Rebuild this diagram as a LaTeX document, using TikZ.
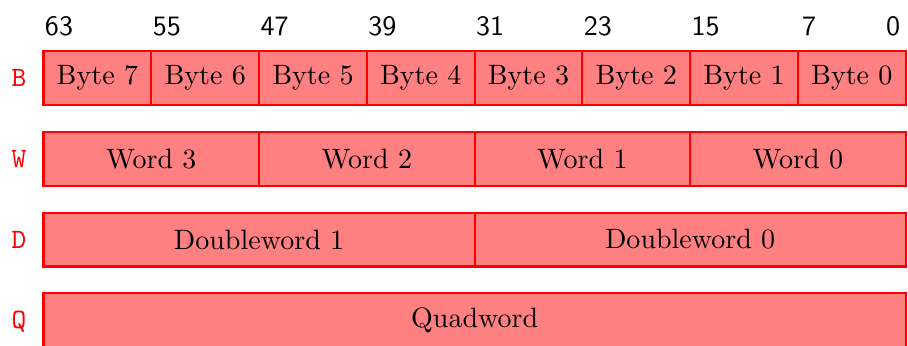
\documentclass[tikz,border=0pt]{standalone}
\begin{document}
\begin{tikzpicture}[x=1pt,y=-1pt,
  cell/.style={draw=red, fill=red!50, line width=0.8pt, minimum height=20pt,
    inner sep=0pt, outer sep=0pt, anchor=north west, font=\fontsize{10.4}{12}\selectfont},
  bitlabel/.style={font=\fontsize{10.4}{12}\selectfont\sffamily, anchor=base, inner sep=0pt},
  rowlabel/.style={font=\fontsize{10.4}{12}\selectfont\ttfamily, text=red, anchor=base, inner sep=0pt}]
\useasboundingbox (0,0) rectangle (337,128.4);

% bit positions above the register
\foreach \b/\x in {63/21.9, 55/61.9, 47/101.9, 39/141.9, 31/181.9,
                   23/221.9, 15/261.9, 7/300.3, 0/331.5}
  \node[bitlabel] (bit\b) at (\x,13.0) {\b};

% row size letters
\node[rowlabel] (lblB) at (7.05,32.1) {B};
\node[rowlabel] (lblW) at (7.05,62.1) {W};
\node[rowlabel] (lblD) at (7.05,92.1) {D};
\node[rowlabel] (lblQ) at (7.05,122.1) {Q};

% bytes
\foreach \i in {0,...,7}
  \node[cell, minimum width=40pt] (byte\i) at ({16.15+(7-\i)*40},18.9) {Byte \i};

% words
\foreach \i in {0,...,3}
  \node[cell, minimum width=80pt] (word\i) at ({16.15+(3-\i)*80},48.9) {Word \i};

% doublewords
\foreach \i in {0,1}
  \node[cell, minimum width=160pt] (dword\i) at ({16.15+(1-\i)*160},78.9) {Doubleword \i};

% quadword
\node[cell, minimum width=320pt] (qword) at (16.15,108.9) {Quadword};
\end{tikzpicture}
\end{document}
